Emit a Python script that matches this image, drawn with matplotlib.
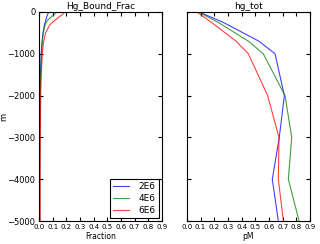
import matplotlib
matplotlib.use("Agg")
import matplotlib.pyplot as plt

# depth levels (m) and bound fraction profiles
frac_depth = [0, -50, -100, -200, -300, -500, -750, -1000, -1500, -2000, -3000, -4000, -5000]
frac_2e6 = [0.072, 0.064, 0.058, 0.049, 0.040, 0.029, 0.021, 0.016, 0.010, 0.007, 0.004, 0.003, 0.003]
frac_4e6 = [0.128, 0.115, 0.095, 0.062, 0.045, 0.031, 0.023, 0.018, 0.012, 0.009, 0.006, 0.005, 0.005]
frac_6e6 = [0.185, 0.175, 0.155, 0.115, 0.080, 0.048, 0.032, 0.024, 0.016, 0.012, 0.009, 0.008, 0.008]

# total Hg (pM)
tot_depth = [0, -250, -700, -1000, -2000, -3000, -4000, -5000]
tot_2e6 = [0.088, 0.266, 0.527, 0.644, 0.712, 0.675, 0.624, 0.668]
tot_4e6 = [0.085, 0.229, 0.45, 0.558, 0.717, 0.766, 0.741, 0.82]
tot_6e6 = [0.073, 0.18, 0.36, 0.449, 0.59, 0.673, 0.668, 0.705]

labels = ["2E6", "4E6", "6E6"]
colors = ["b", "g", "r"]
xticks = [0.0, 0.1, 0.2, 0.3, 0.4, 0.5, 0.6, 0.7, 0.8, 0.9]

fig = plt.figure(figsize=(3.2, 2.44), dpi=100)
ax1 = fig.add_axes([0.122, 0.094, 0.384, 0.857])
ax2 = fig.add_axes([0.584, 0.094, 0.385, 0.857])

for prof, lab, c in zip([frac_2e6, frac_4e6, frac_6e6], labels, colors):
    ax1.plot(prof, frac_depth, color=c, lw=0.8, alpha=0.75, label=lab)
for prof, lab, c in zip([tot_2e6, tot_4e6, tot_6e6], labels, colors):
    ax2.plot(prof, tot_depth, color=c, lw=0.8, alpha=0.75, label=lab)

for ax in (ax1, ax2):
    ax.set_xlim(0, 0.9)
    ax.set_ylim(-5000, 0)
    ax.set_xticks(xticks)
    ax.set_yticks([-5000, -4000, -3000, -2000, -1000, 0])
    ax.tick_params(direction="in", top=True, right=True, length=3)
    ax.tick_params(axis="x", labelsize=5, pad=2)
    ax.tick_params(axis="y", labelsize=6, pad=2.5)
    for s in ax.spines.values():
        s.set_linewidth(0.8)

ax2.set_yticklabels([])
ax1.set_title("Hg_Bound_Frac", fontsize=6.5, pad=2)
ax2.set_title("hg_tot", fontsize=6.5, pad=2)
ax1.set_xlabel("Fraction", fontsize=5.5, labelpad=1.5)
ax2.set_xlabel("pM", fontsize=5.5, labelpad=1.5)
ax1.set_ylabel("m", fontsize=6)
ax1.yaxis.set_label_coords(-0.248, 0.5)

leg = ax1.legend(loc="lower right", fontsize=6.5, fancybox=False, framealpha=1,
                 handlelength=1.8, handletextpad=1.0, borderpad=0.4,
                 labelspacing=0.3, borderaxespad=0.3)
leg.get_frame().set_edgecolor("black")
leg.get_frame().set_linewidth(0.8)

fig.savefig("out.png", dpi=100)
